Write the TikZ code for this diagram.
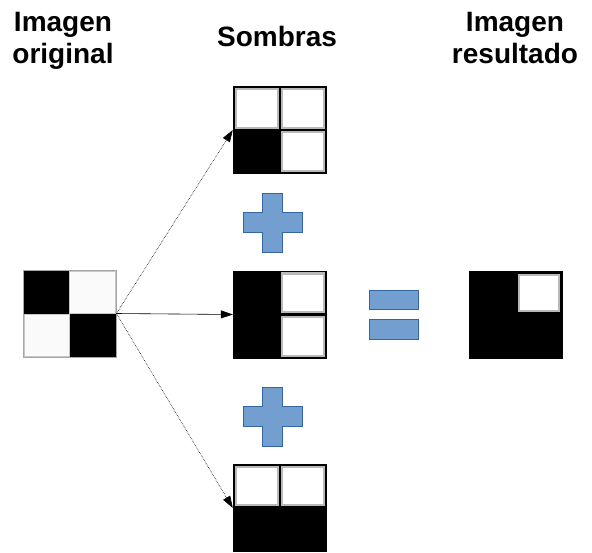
\documentclass[tikz,border=0pt]{standalone}
\usepackage{fontspec}
\setmainfont{Liberation Sans}
\usetikzlibrary{arrows.meta}
\definecolor{opfill}{HTML}{729FCF}
\definecolor{opline}{HTML}{3465A4}
\begin{document}
\begin{tikzpicture}[x=1pt,y=-1pt,
  title/.style={font=\fontsize{28}{32}\selectfont\bfseries, align=center, inner sep=0pt},
  grid/.style={fill=black, draw=none, inner sep=0pt, minimum width=94pt, minimum height=88pt},
  softcell/.style={fill=white, draw=gray!55, line width=2.2pt},
  flatcell/.style={fill=gray!4, draw=gray!45, line width=0.6pt},
  arr/.style={-{Triangle[length=12pt,width=8pt]}, line width=0.6pt},
  op/.style={fill=opfill, draw=opline, line width=0.9pt}]
\useasboundingbox (0,0) rectangle (592,552);

% titles
\node[title, anchor=north] (t1) at (63,12) {Imagen\\original};
\node[title, anchor=base] (t2) at (277,46) {Sombras};
\node[title, anchor=north] (t3) at (515,12) {Imagen\\resultado};

% original image
\node[grid, minimum width=93pt, minimum height=87pt, draw=gray!70, line width=0.8pt] (orig) at (69.5,313.5) {};
\draw[flatcell] (69,271) rectangle (115,313);
\draw[flatcell] (24,314) rectangle (69,356);

% shadows
\node[grid] (top) at (280,130) {};
\draw[softcell] (236,89) rectangle (278,128);
\draw[softcell] (282,89) rectangle (324,128);
\draw[softcell] (282,132) rectangle (324,171);

\node[grid] (mid) at (280,314.5) {};
\draw[softcell] (282,273.5) rectangle (324,312);
\draw[softcell] (282,317) rectangle (324,356);

\node[grid] (bot) at (280,508) {};
\draw[softcell] (236,467) rectangle (278,505);
\draw[softcell] (282,467) rectangle (324,505);

% result
\node[grid] (res) at (516,315) {};
\draw[softcell] (519,275) rectangle (559,311);

% arrows
\draw[arr, densely dotted] (orig.east) -- (top.west);
\draw[arr] (orig.east) -- (mid.west);
\draw[arr, densely dotted] (orig.east) -- (bot.west);

% plus signs
\draw[op] (262.5,193) -- ++(20,0) -- ++(0,19.5) -- ++(19.5,0) -- ++(0,20) -- ++(-19.5,0) -- ++(0,19.5) -- ++(-20,0) -- ++(0,-19.5) -- ++(-19.5,0) -- ++(0,-20) -- ++(19.5,0) -- cycle;
\draw[op] (262.5,387) -- ++(20,0) -- ++(0,19.5) -- ++(19.5,0) -- ++(0,20) -- ++(-19.5,0) -- ++(0,19.5) -- ++(-20,0) -- ++(0,-19.5) -- ++(-19.5,0) -- ++(0,-20) -- ++(19.5,0) -- cycle;

% equals
\draw[op] (369,290) rectangle (418,309);
\draw[op] (369,319) rectangle (418,339);
\end{tikzpicture}
\end{document}
